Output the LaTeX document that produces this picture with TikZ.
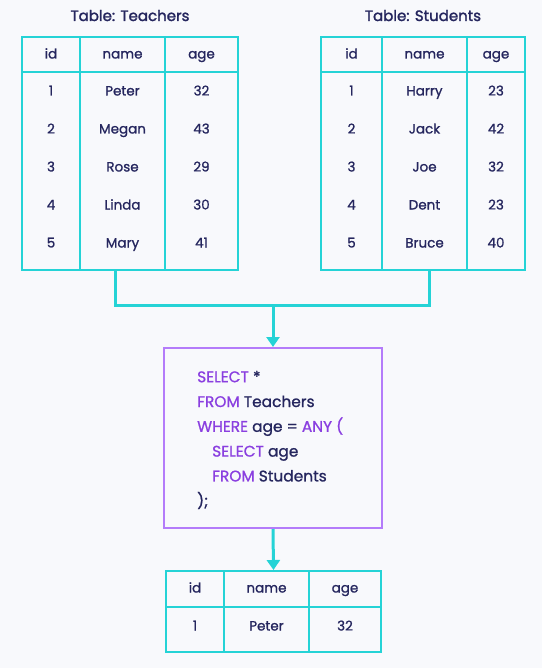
\documentclass[tikz,border=0pt]{standalone}
\usepackage{fontspec}
\setmainfont{Poppins}[FakeBold=1.0]
\newfontfamily\headfont{Poppins}[FakeBold=1.8]
\usetikzlibrary{arrows.meta}

\definecolor{tabline}{HTML}{25D3D6}
\definecolor{inkblue}{HTML}{25265E}
\definecolor{sqlkey}{HTML}{8A3FE0}
\definecolor{boxline}{HTML}{B47CFA}
\definecolor{paper}{HTML}{F8F9FC}
\newcommand{\kw}[1]{\textcolor{sqlkey}{#1}}

\tikzset{
  frame/.style={draw=tabline, line width=2pt, inner sep=0pt},
  grid/.style={draw=tabline, line width=2pt},
  cell/.style={text=inkblue, inner sep=0pt, text height=10pt, text depth=3pt, font=\fontsize{13.5}{16}\selectfont},
  title/.style={text=inkblue, inner sep=0pt, text height=11pt, text depth=3pt, font=\headfont\fontsize{15}{18}\selectfont},
  conn/.style={draw=tabline, line width=3pt},
  querybox/.style={draw=boxline, line width=2pt, minimum width=218pt, minimum height=180pt},
  code/.style={align=left, text=inkblue, inner sep=0pt, font=\fontsize{15.4}{24.8}\selectfont}
}

\begin{document}
\begin{tikzpicture}[x=1pt,y=-1pt]
\fill[paper] (0,0) rectangle (542,668);
\useasboundingbox (0,0) rectangle (542,668);

% Teachers
\node[title] (teachtitle) at (130,17) {Table: Teachers};
\node[frame, minimum width=216pt, minimum height=233pt] (teach) at (130,153.5) {};
\draw[grid] (80,37) -- (80,270);
\draw[grid] (165,37) -- (165,270);
\draw[grid] (22,72) -- (238,72);
\node[cell] (t-id) at (51,55) {id};
\node[cell] (t-name) at (122.5,55) {name};
\node[cell] (t-age) at (201.5,55) {age};
\foreach \i/\nm/\ag [count=\r] in {1/Peter/32, 2/Megan/43, 3/Rose/29, 4/Linda/30, 5/Mary/41} {
  \node[cell] (t-id-\r) at (51,{54+38*\r}) {\i};
  \node[cell] (t-name-\r) at (122.5,{54+38*\r}) {\nm};
  \node[cell] (t-age-\r) at (201.5,{54+38*\r}) {\ag};
}

% Students
\node[title] (studtitle) at (423,17) {Table: Students};
\node[frame, minimum width=204pt, minimum height=233pt] (stud) at (423,153.5) {};
\draw[grid] (382,37) -- (382,270);
\draw[grid] (467,37) -- (467,270);
\draw[grid] (321,72) -- (525,72);
\node[cell] (s-id) at (351.5,55) {id};
\node[cell] (s-name) at (424.5,55) {name};
\node[cell] (s-age) at (496,55) {age};
\foreach \i/\nm/\ag [count=\r] in {1/Harry/23, 2/Jack/42, 3/Joe/32, 4/Dent/23, 5/Bruce/40} {
  \node[cell] (s-id-\r) at (351.5,{54+38*\r}) {\i};
  \node[cell] (s-name-\r) at (424.5,{54+38*\r}) {\nm};
  \node[cell] (s-age-\r) at (496,{54+38*\r}) {\ag};
}

% query
\node[querybox] (query) at (273,438) {};
\node[code, anchor=west] (sql) at (197,440) {\kw{SELECT} *\\
\kw{FROM} Teachers\\
\kw{WHERE} age = \kw{ANY (}\\
\hspace*{15pt}\kw{SELECT} age\\
\hspace*{15pt}\kw{FROM} Students\\
);};

% result
\node[frame, minimum width=215pt, minimum height=81pt] (res) at (273.5,611.5) {};
\draw[grid] (224,571) -- (224,652);
\draw[grid] (309,571) -- (309,652);
\draw[grid] (166,607) -- (381,607);
\node[cell] (r-id) at (195,589) {id};
\node[cell] (r-name) at (266.5,589) {name};
\node[cell] (r-age) at (345,589) {age};
\node[cell] (r-id-1) at (195,627) {1};
\node[cell] (r-name-1) at (266.5,627) {Peter};
\node[cell] (r-age-1) at (345,627) {32};

% arrows
\coordinate (join) at (273,305);
\draw[conn] ([xshift=-15pt]teach.south) |- (join) -| ([xshift=6pt]stud.south);
\draw[conn,-{Triangle[width=13pt,length=10pt]}] (join) -- (query.north);
\draw[conn,-{Triangle[width=13pt,length=10pt]}] (query.south) -- (res.north);
\end{tikzpicture}
\end{document}
